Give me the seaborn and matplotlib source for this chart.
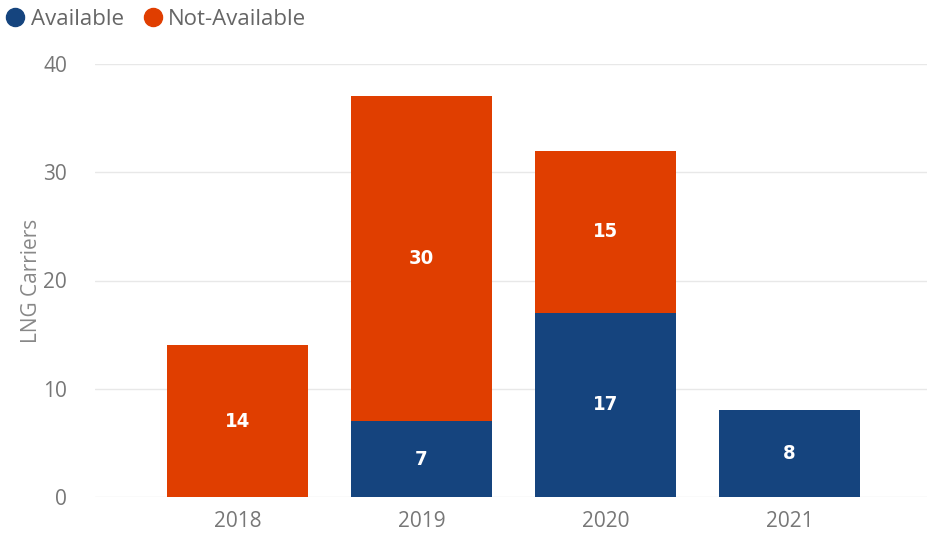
import matplotlib
matplotlib.use("Agg")
import matplotlib.pyplot as plt
from matplotlib.lines import Line2D
import seaborn as sns
import pandas as pd
import numpy as np

years = ["2018", "2019", "2020", "2021"]
available = [0, 7, 17, 8]
not_available = [14, 30, 15, 0]
series_names = ["Available", "Not-Available"]
colors = ["#15447E", "#E03E00"]
y_ticks = [0, 10, 20, 30, 40]

sns.set_theme(style="white")
plt.rcParams['font.family'] = ['Open Sans', 'DejaVu Sans']

fig = plt.figure(figsize=(9.27, 5.44), dpi=100)
ax = fig.add_axes([95/927, (544-497)/544, (927-95)/927, (497-64)/544])

df = pd.DataFrame({"year": years, "Available": available, "Not-Available": not_available})
df["total"] = df["Available"] + df["Not-Available"]

width = 141/184
sns.barplot(data=df, x="year", y="total", color=colors[1], width=width, ax=ax,
            saturation=1, edgecolor="none")
sns.barplot(data=df, x="year", y="Available", color=colors[0], width=width, ax=ax,
            saturation=1, edgecolor="none")

lab_kw = dict(ha="center", va="center", color="white", fontsize=14.5,
              fontweight="bold", fontstretch="condensed", family=["DejaVu Sans"])
for i, (a, n) in enumerate(zip(available, not_available)):
    if a > 0:
        ax.text(i, a/2, str(a), **lab_kw)
    if n > 0:
        ax.text(i, a + n/2, str(n), **lab_kw)

ax.set_xlim(-142.5/184, 3 + 137.5/184)
ax.set_ylim(0, 40)
ax.set_yticks(y_ticks)
ax.set_yticklabels([str(t) for t in y_ticks])
ax.yaxis.grid(True, color="#E8E8E8", linewidth=1)
ax.set_axisbelow(True)
for s in ax.spines.values():
    s.set_visible(False)
ax.tick_params(axis="both", length=0, labelsize=15, labelcolor="#777777")
ax.tick_params(axis="y", pad=20)
ax.tick_params(axis="x", pad=10)
ax.set_xlabel("")
ax.set_ylabel("LNG Carriers", fontsize=15, color="#888888")
ax.yaxis.set_label_coords(-53/832, 0.5)

handles = [Line2D([0], [0], marker="o", linestyle="", markersize=13,
                  markerfacecolor=c, markeredgecolor=c) for c in colors]
fig.legend(handles, series_names, loc="upper left", bbox_to_anchor=(-0.022, 1.008),
           frameon=False, ncol=2, fontsize=16, handletextpad=-0.3, columnspacing=0.3,
           labelcolor="#666666", borderaxespad=0.2)

fig.savefig("out.png", dpi=100)
